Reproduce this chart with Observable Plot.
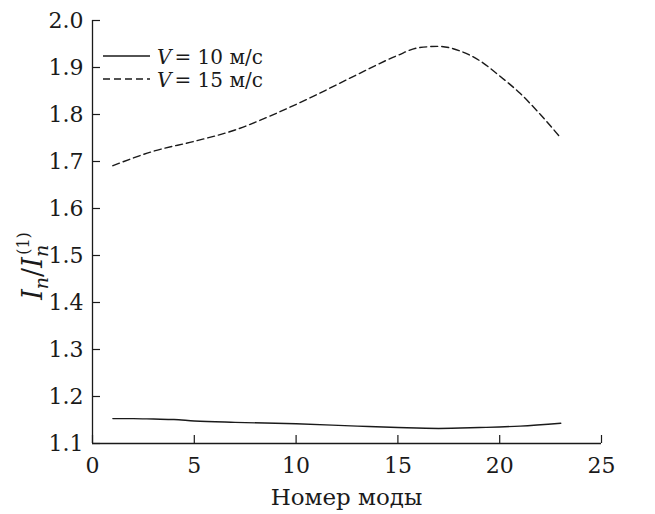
<!DOCTYPE html>
<html><head><meta charset="utf-8">
<script src="https://cdn.jsdelivr.net/npm/d3@7"></script>
<script src="https://cdn.jsdelivr.net/npm/@observablehq/plot@0.6"></script>
<style>
body{margin:0;background:#fff;}
</style></head>
<body><div id="chart"></div>
<script>
const modes10 = [1, 2, 3, 4, 5, 7, 10, 13, 15, 17, 19, 21, 23];
const values10 = [1.153, 1.153, 1.152, 1.151, 1.148, 1.145, 1.142, 1.137, 1.134, 1.132, 1.134, 1.137, 1.143];
const modes15 = [1, 3, 5, 7, 9, 11, 13, 15, 16, 17, 18, 19, 20, 21, 22, 23];
const values15 = [1.691, 1.722, 1.743, 1.767, 1.802, 1.842, 1.885, 1.926, 1.942, 1.945, 1.936, 1.915, 1.882, 1.845, 1.800, 1.750];
const xTicks = [0, 5, 10, 15, 20, 25];
const yTicks = [1.1, 1.2, 1.3, 1.4, 1.5, 1.6, 1.7, 1.8, 1.9, 2.0];
const seriesLabels = ["10 м/с", "15 м/с"];
const xLabel = "Номер моды";

const data10 = modes10.map((n, i) => ({n, v: values10[i]}));
const data15 = modes15.map((n, i) => ({n, v: values15[i]}));

const W = 655, H = 514;
const mL = 92, mR = 54, mT = 20, mB = 71;
const innerW = W - mL - mR, innerH = H - mT - mB;
const ink = "#1a1a1a";
const SERIF = "DejaVu Serif";

const plot = Plot.plot({
  width: W, height: H,
  marginLeft: mL, marginRight: mR, marginTop: mT, marginBottom: mB,
  style: {fontSize: "22px", fontFamily: SERIF, color: ink, background: "#fff", overflow: "visible"},
  x: {domain: [0, 25], ticks: xTicks, label: null},
  y: {domain: [1.1, 2.0], ticks: yTicks, label: null, tickFormat: d3.format(".1f")},
  marks: [
    Plot.axisX({ticks: xTicks, tickSize: 0, tickPadding: 14, label: null, fontSize: 22}),
    Plot.axisY({ticks: yTicks, tickSize: 0, tickPadding: 9, label: null, tickFormat: d3.format(".1f"), fontSize: 22}),
    Plot.tickX(xTicks, {x: d => d, stroke: ink, strokeWidth: 1.2, insetTop: innerH - 8}),
    Plot.tickY(yTicks, {y: d => d, stroke: ink, strokeWidth: 1.2, insetRight: innerW - 8}),
    Plot.ruleX([0], {stroke: ink, strokeWidth: 1.3}),
    Plot.ruleY([1.1], {stroke: ink, strokeWidth: 1.3}),
    Plot.line(data10, {x: "n", y: "v", curve: "monotone-x", stroke: ink, strokeWidth: 1.4}),
    Plot.line(data15, {x: "n", y: "v", curve: "monotone-x", stroke: ink, strokeWidth: 1.4, strokeDasharray: "7,4"})
  ]
});
document.getElementById("chart").appendChild(plot);

const svg = d3.select(plot);
svg.attr("font-family", SERIF);
// x label
svg.append("text").attr("x", mL + innerW / 2).attr("y", 505).attr("text-anchor", "middle")
  .attr("fill", ink).attr("font-size", 23).text(xLabel);

// y label I_n / I_n^(1)
const yl = svg.append("text").attr("transform", "translate(42,266) rotate(-90)")
  .attr("text-anchor", "middle").attr("fill", ink).attr("font-size", 27);
yl.append("tspan").attr("font-style", "italic").text("I");
yl.append("tspan").attr("font-style", "italic").attr("font-size", 19).attr("dy", 6).text("n");
yl.append("tspan").attr("dy", -6).text("/");
yl.append("tspan").attr("font-style", "italic").text("I");
yl.append("tspan").attr("font-style", "italic").attr("font-size", 19).attr("dy", 6).text("n");
yl.append("tspan").attr("font-size", 16).attr("dx", -10).attr("dy", -19).text("(1)");

// legend
const legend = [
  {y: 56, dash: null, label: seriesLabels[0]},
  {y: 79, dash: "7,4", label: seriesLabels[1]}
];
legend.forEach(l => {
  svg.append("line").attr("x1", 103).attr("x2", 150).attr("y1", l.y).attr("y2", l.y)
    .attr("stroke", ink).attr("stroke-width", 1.4).attr("stroke-dasharray", l.dash);
  const t = svg.append("text").attr("x", 157).attr("y", l.y + 8).attr("text-anchor", "start")
    .attr("fill", ink).attr("font-size", 20);
  t.append("tspan").attr("font-style", "italic").text("V");
  t.append("tspan").attr("dx", 3).text("= " + l.label);
});
svg.selectAll("text, tspan").attr("font-family", SERIF).style("font-family", SERIF);
</script></body></html>
